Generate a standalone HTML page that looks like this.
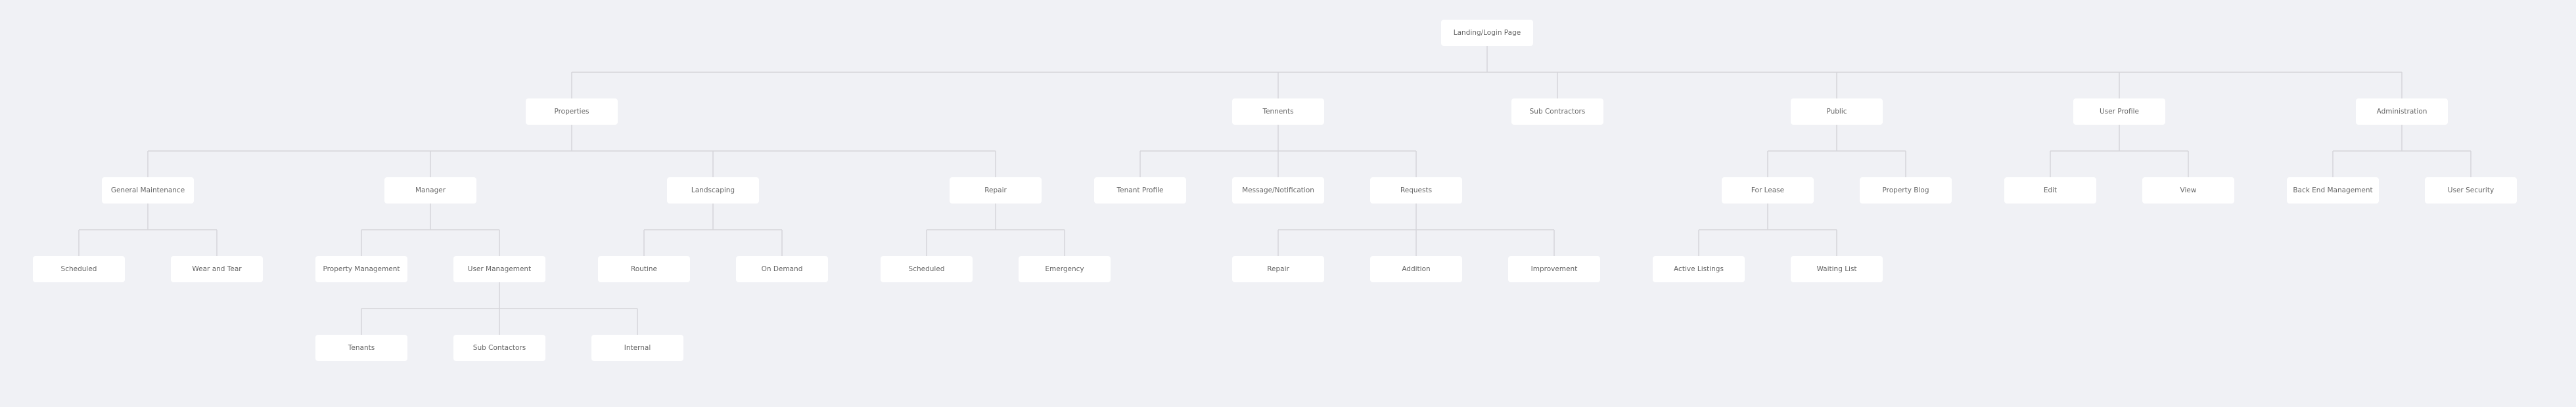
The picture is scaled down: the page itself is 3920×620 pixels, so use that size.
<!DOCTYPE html>
<html><head><meta charset="utf-8"><style>
html,body{margin:0;padding:0;background:#f0f1f5;}
svg{display:block}
text{font-family:"DejaVu Sans","Liberation Sans",sans-serif;font-size:10.5px;fill:#666;text-anchor:middle;dominant-baseline:central}
rect{fill:#fff}
line{stroke:#d5d5da;stroke-width:1.5}
</style></head><body>
<svg width="3920" height="620" viewBox="0 0 3920 620">
<g>
<!-- root -->
<line x1="2263" y1="70" x2="2263" y2="110"/>
<line x1="870" y1="110" x2="3655" y2="110"/>
<line x1="870" y1="110" x2="870" y2="150"/>
<line x1="1945" y1="110" x2="1945" y2="150"/>
<line x1="2370" y1="110" x2="2370" y2="150"/>
<line x1="2795" y1="110" x2="2795" y2="150"/>
<line x1="3225" y1="110" x2="3225" y2="150"/>
<line x1="3655" y1="110" x2="3655" y2="150"/>
<!-- properties -->
<line x1="870" y1="190" x2="870" y2="230"/>
<line x1="225" y1="230" x2="1515" y2="230"/>
<line x1="225" y1="230" x2="225" y2="270"/>
<line x1="655" y1="230" x2="655" y2="270"/>
<line x1="1085" y1="230" x2="1085" y2="270"/>
<line x1="1515" y1="230" x2="1515" y2="270"/>
<!-- GM -->
<line x1="225" y1="310" x2="225" y2="350"/>
<line x1="120" y1="350" x2="330" y2="350"/>
<line x1="120" y1="350" x2="120" y2="390"/>
<line x1="330" y1="350" x2="330" y2="390"/>
<!-- Manager -->
<line x1="655" y1="310" x2="655" y2="350"/>
<line x1="550" y1="350" x2="760" y2="350"/>
<line x1="550" y1="350" x2="550" y2="390"/>
<line x1="760" y1="350" x2="760" y2="390"/>
<!-- User mgmt -->
<line x1="760" y1="430" x2="760" y2="470"/>
<line x1="550" y1="470" x2="970" y2="470"/>
<line x1="550" y1="470" x2="550" y2="510"/>
<line x1="760" y1="470" x2="760" y2="510"/>
<line x1="970" y1="470" x2="970" y2="510"/>
<!-- Landscaping -->
<line x1="1085" y1="310" x2="1085" y2="350"/>
<line x1="980" y1="350" x2="1190" y2="350"/>
<line x1="980" y1="350" x2="980" y2="390"/>
<line x1="1190" y1="350" x2="1190" y2="390"/>
<!-- Repair -->
<line x1="1515" y1="310" x2="1515" y2="350"/>
<line x1="1410" y1="350" x2="1620" y2="350"/>
<line x1="1410" y1="350" x2="1410" y2="390"/>
<line x1="1620" y1="350" x2="1620" y2="390"/>
<!-- Tennents -->
<line x1="1945" y1="190" x2="1945" y2="230"/>
<line x1="1735" y1="230" x2="2155" y2="230"/>
<line x1="1735" y1="230" x2="1735" y2="270"/>
<line x1="1945" y1="230" x2="1945" y2="270"/>
<line x1="2155" y1="230" x2="2155" y2="270"/>
<!-- Requests -->
<line x1="2155" y1="310" x2="2155" y2="350"/>
<line x1="1945" y1="350" x2="2365" y2="350"/>
<line x1="1945" y1="350" x2="1945" y2="390"/>
<line x1="2155" y1="350" x2="2155" y2="390"/>
<line x1="2365" y1="350" x2="2365" y2="390"/>
<!-- Public -->
<line x1="2795" y1="190" x2="2795" y2="230"/>
<line x1="2690" y1="230" x2="2900" y2="230"/>
<line x1="2690" y1="230" x2="2690" y2="270"/>
<line x1="2900" y1="230" x2="2900" y2="270"/>
<line x1="2690" y1="310" x2="2690" y2="350"/>
<line x1="2585" y1="350" x2="2795" y2="350"/>
<line x1="2585" y1="350" x2="2585" y2="390"/>
<line x1="2795" y1="350" x2="2795" y2="390"/>
<!-- User profile -->
<line x1="3225" y1="190" x2="3225" y2="230"/>
<line x1="3120" y1="230" x2="3330" y2="230"/>
<line x1="3120" y1="230" x2="3120" y2="270"/>
<line x1="3330" y1="230" x2="3330" y2="270"/>
<!-- Admin -->
<line x1="3655" y1="190" x2="3655" y2="230"/>
<line x1="3550" y1="230" x2="3760" y2="230"/>
<line x1="3550" y1="230" x2="3550" y2="270"/>
<line x1="3760" y1="230" x2="3760" y2="270"/>
</g>
<g id="nodes"></g>
</svg>
<script>
const N=[
[2263,30,"Landing/Login Page"],
[870,150,"Properties"],[1945,150,"Tennents"],[2370,150,"Sub Contractors"],[2795,150,"Public"],[3225,150,"User Profile"],[3655,150,"Administration"],
[225,270,"General Maintenance"],[655,270,"Manager"],[1085,270,"Landscaping"],[1515,270,"Repair"],
[1735,270,"Tenant Profile"],[1945,270,"Message/Notification"],[2155,270,"Requests"],
[2690,270,"For Lease"],[2900,270,"Property Blog"],[3120,270,"Edit"],[3330,270,"View"],[3550,270,"Back End Management"],[3760,270,"User Security"],
[120,390,"Scheduled"],[330,390,"Wear and Tear"],[550,390,"Property Management"],[760,390,"User Management"],
[980,390,"Routine"],[1190,390,"On Demand"],[1410,390,"Scheduled"],[1620,390,"Emergency"],
[1945,390,"Repair"],[2155,390,"Addition"],[2365,390,"Improvement"],[2585,390,"Active Listings"],[2795,390,"Waiting List"],
[550,510,"Tenants"],[760,510,"Sub Contactors"],[970,510,"Internal"]];
const g=document.getElementById("nodes");const ns="http://www.w3.org/2000/svg";
for(const [cx,y,t] of N){const r=document.createElementNS(ns,"rect");r.setAttribute("x",cx-70);r.setAttribute("y",y);r.setAttribute("width",140);r.setAttribute("height",40);r.setAttribute("rx",4);g.appendChild(r);
const tx=document.createElementNS(ns,"text");tx.setAttribute("x",cx);tx.setAttribute("y",y+20);tx.textContent=t;g.appendChild(tx);}
</script>
</body></html>
